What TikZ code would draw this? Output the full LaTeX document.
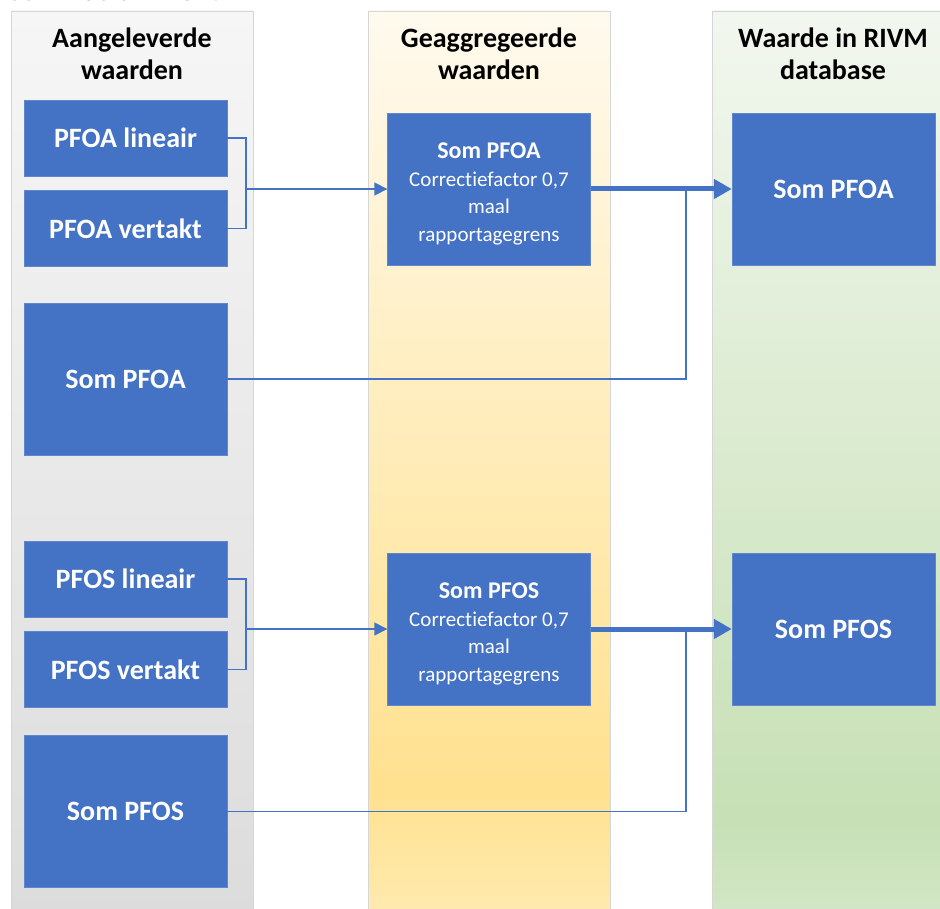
\documentclass[tikz,border=0pt]{standalone}
\usepackage{fontspec}
\setmainfont{Carlito}[Ligatures=NoCommon]
\usetikzlibrary{positioning, arrows.meta}
\definecolor{boxblue}{HTML}{4472C4}
\definecolor{colborder}{HTML}{D6D6D6}
\definecolor{graytop}{HTML}{F6F6F6}
\definecolor{graybot}{HTML}{DCDCDC}
\definecolor{yeltop}{HTML}{FFFAEE}
\definecolor{yelmid}{HTML}{FFE18F}
\definecolor{yelbot}{HTML}{FFEAB0}
\definecolor{grntop}{HTML}{F2F7EF}
\definecolor{grnmid}{HTML}{C7E0B5}
\definecolor{grnbot}{HTML}{D2E7C6}

\begin{document}
\begin{tikzpicture}[x=1pt, y=-1pt,
    valbox/.style={draw=boxblue!85!white, fill=boxblue, text=white, font=\fontsize{28}{32}\selectfont\bfseries, minimum width=203pt, minimum height=76pt, inner sep=0pt},
    sombox/.style={valbox, minimum height=152pt},
    aggbox/.style={sombox, font=\fontsize{21}{27.5}\selectfont, align=center},
    colhead/.style={font=\fontsize{28}{32}\selectfont\bfseries, align=center},
    link/.style={draw=boxblue, line width=1.6pt},
    feed/.style={link, -{Triangle[length=13pt, width=13pt]}},
    bigfeed/.style={draw=boxblue, line width=5pt, -{Triangle[length=18pt, width=19pt]}}]
    \useasboundingbox (0,0) rectangle (940,909);
    \clip (0,0) rectangle (940,909);
    \fill[white] (0,0) rectangle (940,909);

    % three columns
    \shade[top color=graytop, bottom color=graybot] (11,11) rectangle (253,915);
    \shade[top color=yeltop, bottom color=yelmid] (368,11) rectangle (610,790);
    \shade[top color=yelmid, bottom color=yelbot] (368,790) rectangle (610,915);
    \shade[top color=grntop, bottom color=grnmid] (712,11) rectangle (954,820);
    \shade[top color=grnmid, bottom color=grnbot] (712,820) rectangle (954,915);
    \draw[colborder] (11,11) rectangle (253,915) (368,11) rectangle (610,915) (712,11) rectangle (954,915);

    \node[anchor=base west, inner sep=0pt, font=\fontsize{28}{32}\selectfont\itshape] (caption) at (-4,1) {voor PFOS en PFOA.};

    \node[colhead] (headin) at (132,54) {Aangeleverde\\waarden};
    \node[colhead] (headagg) at (489,54) {Geaggregeerde\\waarden};
    \node[colhead] (headdb) at (833,54) {Waarde in RIVM\\database};

    % PFOA
    \node[valbox] (pfoalin) at (125.5,138) {PFOA lineair};
    \node[valbox, below=14pt of pfoalin] (pfoavert) {PFOA vertakt};
    \node[sombox] (pfoasom) at (125.5,379) {Som PFOA};
    \node[aggbox] (pfoaagg) at (489,189) {\rule{0pt}{26pt}{\fontsize{24}{28}\selectfont\bfseries Som PFOA}\\Correctiefactor 0,7\\maal\\rapportagegrens};
    \node[sombox] (pfoadb) at (833.5,189) {Som PFOA};

    % PFOS
    \node[valbox] (pfoslin) at (125.5,579) {PFOS lineair};
    \node[valbox, below=14pt of pfoslin] (pfosvert) {PFOS vertakt};
    \node[sombox] (pfossom) at (125.5,811.5) {Som PFOS};
    \node[aggbox] (pfosagg) at (489,629) {\rule{0pt}{26pt}{\fontsize{24}{28}\selectfont\bfseries Som PFOS}\\Correctiefactor 0,7\\maal\\rapportagegrens};
    \node[sombox] (pfosdb) at (833.5,629) {Som PFOS};

    \draw[link] (pfoalin.east) -- ++(19,0) |- (pfoavert.east);
    \coordinate (pfoasplit) at (246,189);
    \draw[feed] (pfoasplit) -- (pfoaagg.west);
    \draw[bigfeed] (pfoaagg.east) -- (pfoadb.west);
    \coordinate (pfoamerge) at (686,189);
    \draw[link] (pfoasom.east) -| (pfoamerge);

    \draw[link] (pfoslin.east) -- ++(19,0) |- (pfosvert.east);
    \coordinate (pfossplit) at (246,629);
    \draw[feed] (pfossplit) -- (pfosagg.west);
    \draw[bigfeed] (pfosagg.east) -- (pfosdb.west);
    \coordinate (pfosmerge) at (686,629);
    \draw[link] (pfossom.east) -| (pfosmerge);
\end{tikzpicture}
\end{document}
